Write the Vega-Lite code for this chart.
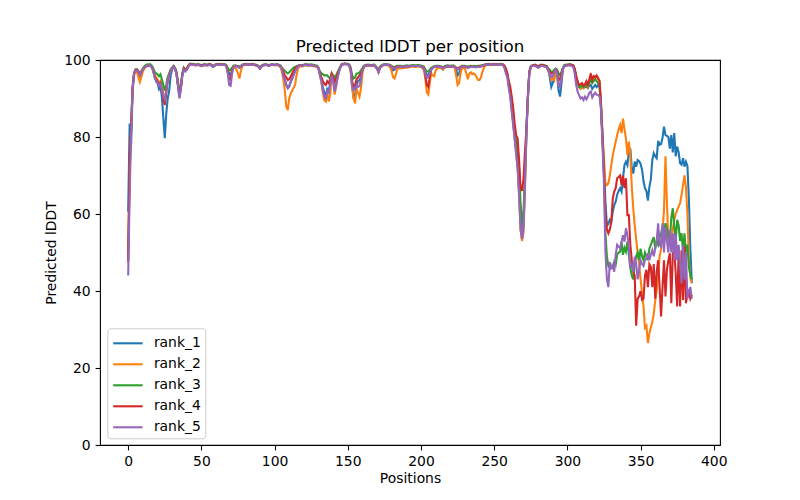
{
"$schema": "https://vega.github.io/schema/vega-lite/v6.json",
"width": 620, "height": 385,
"autosize": {"type": "none"},
"padding": {"left": 100, "top": 60, "right": 80, "bottom": 55},
"title": {"text": "Predicted lDDT per position", "fontSize": 16.7, "font": "DejaVu Sans", "fontWeight": "normal", "color": "black", "offset": -3},
"data": {"values": [
{"p":0,"r1":60.6,"r2":50,"r3":48,"r4":47.5,"r5":44},
{"p":1,"r1":83.5,"r2":72,"r3":70,"r4":75,"r5":65},
{"p":2,"r1":78,"r2":82,"r3":82,"r4":83,"r5":81},
{"p":3,"r1":92,"r2":92,"r3":92.5,"r4":93,"r5":92.5},
{"p":4,"r1":96.5,"r2":96,"r3":96.5,"r4":96.5,"r5":96.5},
{"p":5,"r1":97.3,"r2":97,"r3":97.5,"r4":97.5,"r5":97.3},
{"p":6,"r1":97.5,"r2":96.8,"r3":97.5,"r4":97.5,"r5":97.3},
{"p":7,"r1":97,"r2":95.5,"r3":97,"r4":97,"r5":96.8},
{"p":8,"r1":96,"r2":94.3,"r3":96.5,"r4":96,"r5":96},
{"p":9,"r1":96.8,"r2":95.5,"r3":97.2,"r4":96.8,"r5":96.8},
{"p":10,"r1":97.5,"r2":97,"r3":97.8,"r4":97.5,"r5":97.5},
{"p":11,"r1":98,"r2":97.8,"r3":98.3,"r4":98,"r5":98},
{"p":12,"r1":98.3,"r2":98.3,"r3":98.7,"r4":98.3,"r5":98.3},
{"p":13,"r1":98.6,"r2":98.5,"r3":98.9,"r4":98.5,"r5":98.6},
{"p":14,"r1":98.5,"r2":98.5,"r3":98.8,"r4":98.5,"r5":98.5},
{"p":15,"r1":98.7,"r2":98.6,"r3":98.9,"r4":98.6,"r5":98.7},
{"p":16,"r1":98.3,"r2":98.2,"r3":98.6,"r4":98.2,"r5":98.2},
{"p":17,"r1":97.3,"r2":97.3,"r3":98,"r4":97.5,"r5":97.3},
{"p":18,"r1":96,"r2":96.3,"r3":97,"r4":95.8,"r5":95.5},
{"p":19,"r1":94.5,"r2":95.5,"r3":96.5,"r4":95,"r5":94.8},
{"p":20,"r1":94,"r2":95,"r3":96.3,"r4":94.5,"r5":94.3},
{"p":21,"r1":92.5,"r2":94,"r3":95.8,"r4":93.5,"r5":93.3},
{"p":22,"r1":93.5,"r2":94.5,"r3":96.3,"r4":94,"r5":93.8},
{"p":23,"r1":90.5,"r2":93,"r3":95,"r4":92,"r5":92.3},
{"p":24,"r1":85,"r2":91.5,"r3":93.5,"r4":90,"r5":90.5},
{"p":25,"r1":79.7,"r2":89,"r3":92,"r4":88.3,"r5":89.7},
{"p":26,"r1":86,"r2":91.5,"r3":93.5,"r4":91.5,"r5":92},
{"p":27,"r1":90,"r2":94.5,"r3":95.5,"r4":95,"r5":95},
{"p":28,"r1":92,"r2":96,"r3":96.5,"r4":96,"r5":96},
{"p":29,"r1":96,"r2":97.2,"r3":97.5,"r4":97.2,"r5":97},
{"p":30,"r1":97.5,"r2":97.8,"r3":98,"r4":97.8,"r5":97.8},
{"p":31,"r1":98.3,"r2":98.3,"r3":98.5,"r4":98.3,"r5":98.3},
{"p":32,"r1":97.8,"r2":97.8,"r3":98,"r4":97.8,"r5":97.8},
{"p":33,"r1":96.5,"r2":96.5,"r3":97,"r4":96.5,"r5":96.3},
{"p":34,"r1":93.5,"r2":94,"r3":94.5,"r4":93.5,"r5":93.3},
{"p":35,"r1":90.5,"r2":91.5,"r3":91.5,"r4":91,"r5":90},
{"p":36,"r1":92.5,"r2":93,"r3":93.5,"r4":93,"r5":92.5},
{"p":37,"r1":96,"r2":96.3,"r3":96.5,"r4":96.3,"r5":96},
{"p":38,"r1":97.8,"r2":97.5,"r3":98,"r4":97.8,"r5":97.5},
{"p":39,"r1":97.3,"r2":97.3,"r3":97.5,"r4":97.3,"r5":97},
{"p":40,"r1":97.5,"r2":97.5,"r3":97.8,"r4":97.8,"r5":97.5},
{"p":41,"r1":98.2,"r2":98.3,"r3":98.5,"r4":98.4,"r5":98.2},
{"p":42,"r1":98.8,"r2":98.8,"r3":99,"r4":98.9,"r5":98.8},
{"p":44,"r1":98.9,"r2":98.8,"r3":99,"r4":98.9,"r5":98.9},
{"p":46,"r1":98.7,"r2":98.6,"r3":98.8,"r4":98.7,"r5":98.6},
{"p":48,"r1":98.8,"r2":98.7,"r3":98.9,"r4":98.8,"r5":98.8},
{"p":50,"r1":98.5,"r2":98.4,"r3":98.7,"r4":98.5,"r5":98.4},
{"p":52,"r1":98.8,"r2":98.7,"r3":98.9,"r4":98.8,"r5":98.7},
{"p":54,"r1":98.6,"r2":98.6,"r3":98.8,"r4":98.7,"r5":98.6},
{"p":56,"r1":98.8,"r2":98.8,"r3":99,"r4":98.9,"r5":98.8},
{"p":58,"r1":98.2,"r2":98.3,"r3":98.5,"r4":98.3,"r5":98.2},
{"p":60,"r1":98.8,"r2":98.8,"r3":98.9,"r4":98.8,"r5":98.8},
{"p":62,"r1":98.9,"r2":98.8,"r3":99,"r4":98.9,"r5":98.9},
{"p":64,"r1":98.7,"r2":98.7,"r3":98.9,"r4":98.8,"r5":98.7},
{"p":66,"r1":98.8,"r2":98.7,"r3":98.9,"r4":98.8,"r5":98.8},
{"p":67,"r1":98.5,"r2":98.5,"r3":98.7,"r4":98.5,"r5":98.4},
{"p":68,"r1":97.3,"r2":97.8,"r3":98,"r4":97,"r5":96.5},
{"p":69,"r1":96.5,"r2":97.3,"r3":97.3,"r4":95,"r5":93.5},
{"p":70,"r1":96,"r2":97.3,"r3":97.5,"r4":94.8,"r5":93.3},
{"p":71,"r1":97.5,"r2":97.5,"r3":98,"r4":97,"r5":96.5},
{"p":72,"r1":98.3,"r2":98.2,"r3":98.5,"r4":98.3,"r5":98.2},
{"p":73,"r1":98.5,"r2":98,"r3":98.6,"r4":98.5,"r5":98.5},
{"p":74,"r1":98.4,"r2":97.5,"r3":98.5,"r4":98.4,"r5":98.4},
{"p":75,"r1":98.2,"r2":96.5,"r3":98.4,"r4":98.3,"r5":98.2},
{"p":76,"r1":98,"r2":95.2,"r3":98.3,"r4":98.1,"r5":98},
{"p":77,"r1":98.3,"r2":97.3,"r3":98.5,"r4":98.3,"r5":98.3},
{"p":78,"r1":98.7,"r2":98.5,"r3":98.8,"r4":98.7,"r5":98.7},
{"p":80,"r1":98.9,"r2":98.8,"r3":99,"r4":98.9,"r5":98.9},
{"p":82,"r1":98.8,"r2":98.8,"r3":98.9,"r4":98.8,"r5":98.8},
{"p":84,"r1":98.9,"r2":98.8,"r3":99,"r4":98.9,"r5":98.9},
{"p":86,"r1":98.7,"r2":98.7,"r3":98.9,"r4":98.8,"r5":98.7},
{"p":88,"r1":98.6,"r2":98.5,"r3":98.7,"r4":98.6,"r5":98.6},
{"p":89,"r1":98.3,"r2":98.2,"r3":98.5,"r4":98.3,"r5":98.3},
{"p":90,"r1":97.8,"r2":97.8,"r3":98,"r4":97.8,"r5":97.8},
{"p":91,"r1":98.3,"r2":98.3,"r3":98.5,"r4":98.3,"r5":98.3},
{"p":92,"r1":98.6,"r2":98.6,"r3":98.8,"r4":98.7,"r5":98.6},
{"p":94,"r1":98.8,"r2":98.7,"r3":98.9,"r4":98.8,"r5":98.8},
{"p":96,"r1":98.5,"r2":98.5,"r3":98.7,"r4":98.6,"r5":98.5},
{"p":98,"r1":98.8,"r2":98.8,"r3":98.9,"r4":98.8,"r5":98.8},
{"p":100,"r1":98.7,"r2":98.6,"r3":98.8,"r4":98.7,"r5":98.7},
{"p":102,"r1":98.8,"r2":98.7,"r3":98.9,"r4":98.8,"r5":98.8},
{"p":104,"r1":98.3,"r2":98.2,"r3":98.6,"r4":98.4,"r5":98.3},
{"p":105,"r1":97.5,"r2":97,"r3":98,"r4":97.8,"r5":97.5},
{"p":106,"r1":96,"r2":95,"r3":97.5,"r4":97,"r5":95.8},
{"p":107,"r1":95,"r2":92,"r3":97.2,"r4":96,"r5":94.8},
{"p":108,"r1":93.5,"r2":88,"r3":96.8,"r4":95.5,"r5":93.5},
{"p":109,"r1":92.8,"r2":87,"r3":96.5,"r4":94.8,"r5":92.6},
{"p":110,"r1":93.3,"r2":90,"r3":96.8,"r4":95,"r5":93},
{"p":111,"r1":94.3,"r2":91.3,"r3":97.2,"r4":95.7,"r5":94.3},
{"p":112,"r1":95.2,"r2":92,"r3":97.6,"r4":96.5,"r5":95.2},
{"p":113,"r1":96.2,"r2":92.8,"r3":98,"r4":97.2,"r5":96},
{"p":114,"r1":97.2,"r2":93.5,"r3":98.2,"r4":97.8,"r5":97},
{"p":115,"r1":98,"r2":96,"r3":98.4,"r4":98.2,"r5":97.8},
{"p":116,"r1":98.4,"r2":97.8,"r3":98.5,"r4":98.4,"r5":98.3},
{"p":117,"r1":98.6,"r2":98.4,"r3":98.7,"r4":98.6,"r5":98.6},
{"p":119,"r1":98.5,"r2":98.3,"r3":98.7,"r4":98.5,"r5":98.5},
{"p":121,"r1":98.8,"r2":98.6,"r3":98.9,"r4":98.8,"r5":98.8},
{"p":123,"r1":98.6,"r2":98.5,"r3":98.8,"r4":98.7,"r5":98.6},
{"p":125,"r1":98.7,"r2":98.6,"r3":98.9,"r4":98.7,"r5":98.7},
{"p":127,"r1":98.5,"r2":98.4,"r3":98.7,"r4":98.5,"r5":98.5},
{"p":129,"r1":98.3,"r2":98.3,"r3":98.5,"r4":98.3,"r5":98.3},
{"p":130,"r1":97.8,"r2":97.8,"r3":98,"r4":97.8,"r5":97.8},
{"p":131,"r1":96.5,"r2":96,"r3":97,"r4":96.5,"r5":96},
{"p":132,"r1":95,"r2":94,"r3":96.5,"r4":95.5,"r5":94.5},
{"p":133,"r1":93,"r2":91.5,"r3":96.3,"r4":94.5,"r5":92},
{"p":134,"r1":91.5,"r2":89.5,"r3":96,"r4":93.8,"r5":90.5},
{"p":135,"r1":91,"r2":89.2,"r3":96,"r4":93.5,"r5":90},
{"p":136,"r1":92.5,"r2":91.5,"r3":96,"r4":94.5,"r5":92},
{"p":137,"r1":92,"r2":89.2,"r3":95.5,"r4":94,"r5":91.5},
{"p":138,"r1":94,"r2":91,"r3":95.2,"r4":95,"r5":93.5},
{"p":139,"r1":96,"r2":96.2,"r3":96.5,"r4":96.5,"r5":96},
{"p":140,"r1":95,"r2":95,"r3":96,"r4":95.5,"r5":94.5},
{"p":141,"r1":93,"r2":91,"r3":95.5,"r4":94.5,"r5":91.8},
{"p":142,"r1":94,"r2":93,"r3":96,"r4":95.2,"r5":93.3},
{"p":143,"r1":95.5,"r2":95.5,"r3":96.8,"r4":96.3,"r5":95.3},
{"p":144,"r1":97,"r2":97,"r3":97.6,"r4":97.3,"r5":97},
{"p":145,"r1":98.2,"r2":98.2,"r3":98.4,"r4":98.2,"r5":98.2},
{"p":146,"r1":98.8,"r2":98.8,"r3":99,"r4":98.9,"r5":98.8},
{"p":148,"r1":99,"r2":99,"r3":99.1,"r4":99,"r5":99},
{"p":150,"r1":98.9,"r2":98.9,"r3":99,"r4":98.9,"r5":98.9},
{"p":151,"r1":98.6,"r2":98.5,"r3":98.8,"r4":98.6,"r5":98.6},
{"p":152,"r1":97.5,"r2":97,"r3":98,"r4":97.5,"r5":97.3},
{"p":153,"r1":93,"r2":93,"r3":96,"r4":94.5,"r5":93},
{"p":154,"r1":90,"r2":90,"r3":95.2,"r4":93,"r5":92.2},
{"p":155,"r1":91,"r2":88.7,"r3":95.5,"r4":93.5,"r5":92.8},
{"p":156,"r1":93.5,"r2":92.5,"r3":96.5,"r4":95,"r5":93.5},
{"p":157,"r1":94.5,"r2":91.5,"r3":96.5,"r4":95.5,"r5":93},
{"p":158,"r1":94.8,"r2":90.5,"r3":96.8,"r4":96,"r5":93.2},
{"p":159,"r1":95.5,"r2":92.6,"r3":97.3,"r4":96.5,"r5":95},
{"p":160,"r1":97.5,"r2":96.5,"r3":97.8,"r4":97.5,"r5":97.3},
{"p":161,"r1":98.3,"r2":98.2,"r3":98.5,"r4":98.3,"r5":98.3},
{"p":162,"r1":98.5,"r2":98.4,"r3":98.7,"r4":98.5,"r5":98.5},
{"p":164,"r1":98.7,"r2":98.6,"r3":98.8,"r4":98.7,"r5":98.7},
{"p":166,"r1":98.5,"r2":98.5,"r3":98.7,"r4":98.5,"r5":98.5},
{"p":168,"r1":98.7,"r2":98.6,"r3":98.8,"r4":98.7,"r5":98.7},
{"p":170,"r1":97.8,"r2":97.8,"r3":98,"r4":97.8,"r5":97.8},
{"p":171,"r1":97,"r2":96.8,"r3":97.3,"r4":97,"r5":96.8},
{"p":172,"r1":98,"r2":98,"r3":98.3,"r4":98,"r5":98},
{"p":174,"r1":98.7,"r2":98.6,"r3":98.8,"r4":98.7,"r5":98.7},
{"p":176,"r1":98.8,"r2":98.7,"r3":98.9,"r4":98.8,"r5":98.8},
{"p":178,"r1":98.7,"r2":98.6,"r3":98.8,"r4":98.7,"r5":98.7},
{"p":179,"r1":98.5,"r2":98,"r3":98.7,"r4":98.5,"r5":98.5},
{"p":180,"r1":98.2,"r2":97,"r3":98.5,"r4":98.3,"r5":98.2},
{"p":181,"r1":97.3,"r2":95.5,"r3":98.2,"r4":98,"r5":97.8},
{"p":182,"r1":97.5,"r2":95.2,"r3":98.2,"r4":98,"r5":97.8},
{"p":183,"r1":98,"r2":96.5,"r3":98.4,"r4":98.2,"r5":98},
{"p":184,"r1":98.2,"r2":97.8,"r3":98.5,"r4":98.3,"r5":98.2},
{"p":186,"r1":98.3,"r2":97.8,"r3":98.5,"r4":98.3,"r5":98.3},
{"p":188,"r1":98.2,"r2":97.9,"r3":98.4,"r4":98.2,"r5":98.1},
{"p":190,"r1":98.4,"r2":98,"r3":98.6,"r4":98.4,"r5":98.4},
{"p":192,"r1":98.3,"r2":98.1,"r3":98.5,"r4":98.3,"r5":98.3},
{"p":194,"r1":98.5,"r2":98.3,"r3":98.7,"r4":98.5,"r5":98.5},
{"p":196,"r1":98.4,"r2":98.2,"r3":98.6,"r4":98.4,"r5":98.4},
{"p":198,"r1":98.5,"r2":98.3,"r3":98.7,"r4":98.5,"r5":98.5},
{"p":200,"r1":98.4,"r2":98.2,"r3":98.6,"r4":98.4,"r5":98.3},
{"p":202,"r1":98,"r2":97.5,"r3":98.3,"r4":98,"r5":97.8},
{"p":203,"r1":97,"r2":95,"r3":97.5,"r4":96,"r5":96.5},
{"p":204,"r1":96,"r2":91.5,"r3":97,"r4":93.5,"r5":95.3},
{"p":205,"r1":96.2,"r2":91,"r3":97,"r4":93,"r5":95.5},
{"p":206,"r1":97,"r2":94,"r3":97.5,"r4":95.5,"r5":96.5},
{"p":207,"r1":97.6,"r2":96.5,"r3":98,"r4":97.5,"r5":97.5},
{"p":208,"r1":98,"r2":96,"r3":98.2,"r4":98,"r5":98},
{"p":209,"r1":98.2,"r2":95.8,"r3":98.4,"r4":98.2,"r5":98.2},
{"p":210,"r1":98.3,"r2":97.3,"r3":98.5,"r4":98.3,"r5":98.3},
{"p":212,"r1":98.3,"r2":98.1,"r3":98.5,"r4":98.3,"r5":98.3},
{"p":214,"r1":98.1,"r2":97.8,"r3":98.3,"r4":98.2,"r5":98.1},
{"p":215,"r1":97.6,"r2":97.5,"r3":98,"r4":97.9,"r5":97.8},
{"p":216,"r1":98.2,"r2":98,"r3":98.4,"r4":98.2,"r5":98.2},
{"p":218,"r1":98.4,"r2":98.2,"r3":98.6,"r4":98.4,"r5":98.4},
{"p":220,"r1":98.3,"r2":98.2,"r3":98.5,"r4":98.3,"r5":98.3},
{"p":222,"r1":98.4,"r2":98.3,"r3":98.6,"r4":98.4,"r5":98.4},
{"p":223,"r1":98.2,"r2":98,"r3":98.4,"r4":98.2,"r5":98.2},
{"p":224,"r1":97.5,"r2":96,"r3":98,"r4":98,"r5":97.8},
{"p":225,"r1":96,"r2":93.5,"r3":97.8,"r4":97.8,"r5":97.5},
{"p":226,"r1":96.5,"r2":94,"r3":98,"r4":98,"r5":97.8},
{"p":227,"r1":97.8,"r2":96.5,"r3":98.2,"r4":98.2,"r5":98},
{"p":228,"r1":98.3,"r2":98,"r3":98.5,"r4":98.3,"r5":98.3},
{"p":230,"r1":98.3,"r2":97.8,"r3":98.5,"r4":98.3,"r5":98.3},
{"p":231,"r1":98.2,"r2":96.5,"r3":98.4,"r4":98.2,"r5":98.2},
{"p":232,"r1":98,"r2":95,"r3":98.3,"r4":98.1,"r5":97.9},
{"p":233,"r1":98.2,"r2":96.5,"r3":98.4,"r4":98.2,"r5":98.1},
{"p":234,"r1":98.3,"r2":96.8,"r3":98.5,"r4":98.3,"r5":98.2},
{"p":235,"r1":98.2,"r2":96.3,"r3":98.4,"r4":98.2,"r5":98.2},
{"p":236,"r1":98.3,"r2":96.5,"r3":98.5,"r4":98.3,"r5":98.2},
{"p":237,"r1":98.2,"r2":96.2,"r3":98.4,"r4":98.2,"r5":98.1},
{"p":238,"r1":98.2,"r2":95.5,"r3":98.4,"r4":98.2,"r5":98.1},
{"p":239,"r1":98.3,"r2":94.8,"r3":98.5,"r4":98.3,"r5":98.2},
{"p":240,"r1":98.3,"r2":94.8,"r3":98.5,"r4":98.3,"r5":98.2},
{"p":241,"r1":98.4,"r2":95.5,"r3":98.6,"r4":98.4,"r5":98.3},
{"p":242,"r1":98.5,"r2":97,"r3":98.7,"r4":98.5,"r5":98.5},
{"p":243,"r1":98.6,"r2":98,"r3":98.7,"r4":98.6,"r5":98.6},
{"p":244,"r1":98.8,"r2":98.6,"r3":98.9,"r4":98.8,"r5":98.8},
{"p":246,"r1":98.9,"r2":98.8,"r3":99,"r4":98.9,"r5":98.9},
{"p":248,"r1":98.8,"r2":98.8,"r3":98.9,"r4":98.8,"r5":98.8},
{"p":250,"r1":98.9,"r2":98.8,"r3":99,"r4":98.9,"r5":98.9},
{"p":252,"r1":98.8,"r2":98.8,"r3":98.9,"r4":98.8,"r5":98.8},
{"p":254,"r1":98.9,"r2":98.9,"r3":99,"r4":98.9,"r5":98.9},
{"p":256,"r1":98.7,"r2":98.7,"r3":98.9,"r4":98.8,"r5":98.6},
{"p":257,"r1":98.3,"r2":98.2,"r3":98.5,"r4":98.5,"r5":98},
{"p":258,"r1":97,"r2":97,"r3":97.5,"r4":97.8,"r5":96.5},
{"p":259,"r1":96,"r2":96,"r3":96.5,"r4":96.5,"r5":95.5},
{"p":260,"r1":93.5,"r2":93.5,"r3":94,"r4":94.5,"r5":92.5},
{"p":261,"r1":91,"r2":91,"r3":92,"r4":93,"r5":90.5},
{"p":262,"r1":87.5,"r2":87,"r3":89,"r4":90.5,"r5":86.5},
{"p":263,"r1":84,"r2":83.5,"r3":85.5,"r4":87.5,"r5":83},
{"p":264,"r1":80,"r2":79.5,"r3":81.5,"r4":83.5,"r5":79.5},
{"p":265,"r1":77,"r2":76,"r3":79,"r4":80.5,"r5":75.5},
{"p":266,"r1":73,"r2":72,"r3":77.5,"r4":79.7,"r5":72},
{"p":267,"r1":66,"r2":65,"r3":72,"r4":74,"r5":65},
{"p":268,"r1":60,"r2":56,"r3":63,"r4":67,"r5":56},
{"p":269,"r1":55.5,"r2":53,"r3":58,"r4":66,"r5":53.5},
{"p":270,"r1":57,"r2":55,"r3":60,"r4":69,"r5":56},
{"p":271,"r1":68,"r2":66,"r3":70,"r4":76,"r5":68},
{"p":272,"r1":81,"r2":80,"r3":82,"r4":82,"r5":81},
{"p":273,"r1":90,"r2":90,"r3":90.5,"r4":90.5,"r5":90},
{"p":274,"r1":96.5,"r2":96.5,"r3":97,"r4":97,"r5":96.5},
{"p":275,"r1":98.2,"r2":98.2,"r3":98.3,"r4":98.3,"r5":98.2},
{"p":276,"r1":98.5,"r2":98.5,"r3":98.6,"r4":98.6,"r5":98.5},
{"p":278,"r1":98.6,"r2":98.6,"r3":98.8,"r4":98.7,"r5":98.5},
{"p":280,"r1":98.1,"r2":98,"r3":98.4,"r4":98.3,"r5":98},
{"p":282,"r1":98.6,"r2":98.5,"r3":98.8,"r4":98.7,"r5":98.5},
{"p":284,"r1":98.5,"r2":98.4,"r3":98.7,"r4":98.6,"r5":98.4},
{"p":286,"r1":98.2,"r2":98.1,"r3":98.4,"r4":98.3,"r5":98.1},
{"p":287,"r1":97.3,"r2":97,"r3":97.8,"r4":97.5,"r5":97.3},
{"p":288,"r1":95.5,"r2":96.3,"r3":97.5,"r4":97,"r5":96.5},
{"p":289,"r1":93,"r2":94.8,"r3":96.8,"r4":96.5,"r5":95.6},
{"p":290,"r1":94,"r2":95.5,"r3":97,"r4":96.5,"r5":95.8},
{"p":291,"r1":95.2,"r2":94.8,"r3":97.5,"r4":96.8,"r5":96.5},
{"p":292,"r1":97,"r2":97.5,"r3":97.8,"r4":97.5,"r5":97.5},
{"p":293,"r1":96,"r2":96,"r3":97.5,"r4":97,"r5":96.5},
{"p":294,"r1":92,"r2":93.5,"r3":96.5,"r4":95,"r5":93.5},
{"p":295,"r1":90.5,"r2":93.5,"r3":96,"r4":94.8,"r5":93},
{"p":296,"r1":94,"r2":95.5,"r3":97,"r4":96.5,"r5":95.5},
{"p":297,"r1":97.8,"r2":97.8,"r3":98,"r4":97.8,"r5":97.8},
{"p":298,"r1":98.5,"r2":98.4,"r3":98.7,"r4":98.5,"r5":98.4},
{"p":300,"r1":98.7,"r2":98.6,"r3":98.8,"r4":98.7,"r5":98.6},
{"p":302,"r1":98.8,"r2":98.7,"r3":98.9,"r4":98.8,"r5":98.6},
{"p":304,"r1":98.5,"r2":98.4,"r3":98.6,"r4":98.6,"r5":98.2},
{"p":305,"r1":97.5,"r2":97.5,"r3":97.5,"r4":97.8,"r5":96.5},
{"p":306,"r1":95,"r2":95.5,"r3":95.5,"r4":96,"r5":93.5},
{"p":307,"r1":94,"r2":94.4,"r3":94,"r4":94.5,"r5":91.8},
{"p":308,"r1":93,"r2":93,"r3":93,"r4":93.5,"r5":90.9},
{"p":309,"r1":92.5,"r2":92.5,"r3":93,"r4":93.7,"r5":90},
{"p":310,"r1":93,"r2":93,"r3":93.5,"r4":94,"r5":90.3},
{"p":311,"r1":92.7,"r2":92.7,"r3":93,"r4":93.3,"r5":89.6},
{"p":312,"r1":93,"r2":93.2,"r3":93.2,"r4":93.7,"r5":90.5},
{"p":313,"r1":93,"r2":94,"r3":93.6,"r4":94.5,"r5":89.8},
{"p":314,"r1":92.7,"r2":93,"r3":93.5,"r4":93.5,"r5":90.5},
{"p":315,"r1":93.5,"r2":94.5,"r3":94,"r4":95,"r5":91.5},
{"p":316,"r1":93.5,"r2":96,"r3":94.8,"r4":96.5,"r5":91.8},
{"p":317,"r1":92.5,"r2":94.8,"r3":94,"r4":94.8,"r5":90.3},
{"p":318,"r1":93,"r2":95.3,"r3":94.5,"r4":95.8,"r5":91},
{"p":319,"r1":93.5,"r2":95.8,"r3":95,"r4":95.5,"r5":91.5},
{"p":320,"r1":93,"r2":95.5,"r3":94.5,"r4":96,"r5":91},
{"p":321,"r1":93.5,"r2":95,"r3":94,"r4":95.3,"r5":90.9},
{"p":322,"r1":93,"r2":94.5,"r3":93.5,"r4":94.5,"r5":90.5},
{"p":323,"r1":88,"r2":88.5,"r3":87.5,"r4":88,"r5":87},
{"p":324,"r1":80,"r2":81,"r3":79,"r4":80,"r5":78},
{"p":325,"r1":72,"r2":74,"r3":70,"r4":71,"r5":68},
{"p":326,"r1":63,"r2":68,"r3":55,"r4":60,"r5":50},
{"p":327,"r1":57,"r2":67.5,"r3":49,"r4":56,"r5":43},
{"p":328,"r1":57.5,"r2":68,"r3":46.5,"r4":55,"r5":41},
{"p":329,"r1":58.5,"r2":70,"r3":46,"r4":56,"r5":47.5},
{"p":330,"r1":58,"r2":72.7,"r3":46,"r4":58,"r5":46},
{"p":331,"r1":60.6,"r2":75.3,"r3":46,"r4":64,"r5":46.7},
{"p":332,"r1":62.3,"r2":77,"r3":47.6,"r4":65.8,"r5":45},
{"p":333,"r1":63.2,"r2":78.8,"r3":46.8,"r4":66.7,"r5":49.4},
{"p":334,"r1":65,"r2":80.5,"r3":49.4,"r4":69.3,"r5":52},
{"p":335,"r1":66,"r2":82,"r3":50,"r4":69.6,"r5":51.5},
{"p":336,"r1":66.7,"r2":83.1,"r3":50.2,"r4":70,"r5":51.2},
{"p":337,"r1":65.8,"r2":81,"r3":52.8,"r4":67.5,"r5":52.8},
{"p":338,"r1":69.3,"r2":84.8,"r3":49.4,"r4":70,"r5":54.5},
{"p":339,"r1":72.7,"r2":82,"r3":51.2,"r4":66.7,"r5":52.8},
{"p":340,"r1":73.6,"r2":79.7,"r3":50.2,"r4":69.3,"r5":56.3},
{"p":341,"r1":72.7,"r2":75.3,"r3":52.8,"r4":59.7,"r5":54.5},
{"p":342,"r1":76,"r2":78.8,"r3":49.4,"r4":59.7,"r5":51.2},
{"p":343,"r1":77,"r2":75.5,"r3":46,"r4":52,"r5":46},
{"p":344,"r1":72,"r2":67,"r3":44,"r4":48,"r5":47},
{"p":345,"r1":70.5,"r2":61.5,"r3":43,"r4":45,"r5":45},
{"p":346,"r1":73.6,"r2":57,"r3":47,"r4":44,"r5":48.9},
{"p":347,"r1":72.3,"r2":53.4,"r3":49,"r4":31,"r5":47},
{"p":348,"r1":74,"r2":49.9,"r3":50,"r4":38,"r5":43},
{"p":349,"r1":73.7,"r2":47,"r3":48,"r4":38.6,"r5":45.5},
{"p":350,"r1":73,"r2":43,"r3":51,"r4":40,"r5":48},
{"p":351,"r1":71.5,"r2":39.5,"r3":49,"r4":37.7,"r5":47},
{"p":352,"r1":68.5,"r2":36,"r3":48,"r4":38,"r5":46.5},
{"p":353,"r1":66.7,"r2":30.5,"r3":50,"r4":44,"r5":48},
{"p":354,"r1":66,"r2":31,"r3":49,"r4":45.5,"r5":48.5},
{"p":355,"r1":63.5,"r2":26.5,"r3":48,"r4":41,"r5":49.8},
{"p":356,"r1":67,"r2":29,"r3":51,"r4":47,"r5":48},
{"p":357,"r1":69,"r2":30.5,"r3":52,"r4":46.3,"r5":49.5},
{"p":358,"r1":74,"r2":32,"r3":53,"r4":41,"r5":50.6},
{"p":359,"r1":75.8,"r2":34,"r3":54,"r4":47,"r5":49},
{"p":360,"r1":75,"r2":37.5,"r3":51,"r4":38,"r5":51},
{"p":361,"r1":74.5,"r2":40,"r3":53,"r4":45,"r5":53},
{"p":362,"r1":79,"r2":44,"r3":52,"r4":48,"r5":57.6},
{"p":363,"r1":78,"r2":49,"r3":54,"r4":41,"r5":52},
{"p":364,"r1":78.2,"r2":51,"r3":55,"r4":33.4,"r5":51.5},
{"p":365,"r1":79.8,"r2":55.5,"r3":56.7,"r4":41,"r5":57.6},
{"p":366,"r1":82.7,"r2":61,"r3":55,"r4":48,"r5":50},
{"p":367,"r1":80.5,"r2":75,"r3":57.6,"r4":38.6,"r5":56.7},
{"p":368,"r1":80.3,"r2":63,"r3":56,"r4":45.5,"r5":53},
{"p":369,"r1":80,"r2":53,"r3":54,"r4":48,"r5":50},
{"p":370,"r1":77,"r2":54.5,"r3":53,"r4":49.8,"r5":55.9},
{"p":371,"r1":80.5,"r2":53.5,"r3":59,"r4":36.8,"r5":50},
{"p":372,"r1":76,"r2":56,"r3":61.5,"r4":49.8,"r5":55},
{"p":373,"r1":81,"r2":58.5,"r3":57,"r4":50.6,"r5":48},
{"p":374,"r1":75,"r2":60,"r3":53,"r4":44.6,"r5":55},
{"p":375,"r1":77.5,"r2":61,"r3":58.5,"r4":36,"r5":48},
{"p":376,"r1":76,"r2":62,"r3":57,"r4":49.8,"r5":52},
{"p":377,"r1":73.2,"r2":62.8,"r3":53,"r4":36,"r5":47},
{"p":378,"r1":72.8,"r2":65,"r3":55,"r4":50.6,"r5":42},
{"p":379,"r1":74.5,"r2":67.5,"r3":50,"r4":37.7,"r5":52},
{"p":380,"r1":72.3,"r2":70,"r3":55,"r4":51.5,"r5":43},
{"p":381,"r1":73.6,"r2":67,"r3":50,"r4":36.8,"r5":50},
{"p":382,"r1":72.5,"r2":60,"r3":52,"r4":39.4,"r5":38},
{"p":383,"r1":64,"r2":48,"r3":46.3,"r4":40,"r5":40},
{"p":384,"r1":51,"r2":43.5,"r3":44,"r4":38,"r5":41},
{"p":385,"r1":42,"r2":42,"r3":43,"r4":39,"r5":38}
]},
"transform": [{"fold": ["r1","r2","r3","r4","r5"], "as": ["series","lddt"]}],
"mark": {"type": "line", "strokeWidth": 2.08, "clip": true},
"encoding": {
  "x": {"field": "p", "type": "quantitative", "scale": {"domain": [-19.25, 404.25], "nice": false, "zero": false}, "axis": {"title": "Positions", "values": [0,50,100,150,200,250,300,350,400], "titlePadding": 3}},
  "y": {"field": "lddt", "type": "quantitative", "scale": {"domain": [0, 100], "nice": false}, "axis": {"title": "Predicted lDDT", "values": [0,20,40,60,80,100], "titlePadding": 5}},
  "color": {"field": "series", "type": "nominal",
    "scale": {"domain": ["r1","r2","r3","r4","r5"], "range": ["#1f77b4","#ff7f0e","#2ca02c","#d62728","#9467bd"]},
    "legend": {"title": null, "orient": "none", "legendX": 7.3, "legendY": 268.3, "symbolType": "M-1.55,0H1.55", "symbolSize": 361, "symbolStrokeWidth": 2.08, "symbolOffset": 5.6, "labelOffset": 15, "labelFontSize": 13.9, "labelFont": "DejaVu Sans", "labelColor": "black", "padding": 4, "rowPadding": 3, "strokeColor": "#cccccc", "fillColor": "rgba(255,255,255,0.8)", "cornerRadius": 3, "labelExpr": "replace(datum.label, 'r', 'rank_')"}}
},
"config": {
  "view": {"stroke": "black", "strokeWidth": 1.1},
  "axis": {"grid": false, "domain": false, "tickColor": "black", "tickWidth": 1.1, "tickSize": 4.9, "labelFont": "DejaVu Sans", "labelFontSize": 13.9, "labelColor": "black", "labelPadding": 4.9, "titleFont": "DejaVu Sans", "titleFontSize": 13.9, "titleFontWeight": "normal", "titleColor": "black"}
}
}
